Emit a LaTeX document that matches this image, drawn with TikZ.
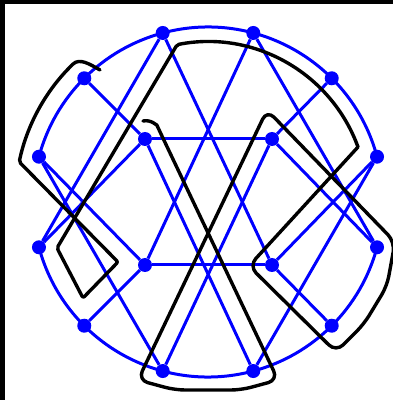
\documentclass[tikz,border=0pt]{standalone}
\usetikzlibrary{calc}
\definecolor{netblue}{RGB}{0,0,255}

\begin{document}
\begin{tikzpicture}[x=1pt, y=1pt,
  vtx/.style={circle, fill=netblue, inner sep=0pt, minimum size=14pt},
  edge/.style={draw=netblue, line width=3pt},
  trail/.style={draw=black, line width=3.4pt, line cap=round, line join=round}]
  \useasboundingbox (0,0) rectangle (393,400);
  \fill[black] (0,0) rectangle (4.5,400);
  \fill[black] (0,395.5) rectangle (393,400);
  \begin{scope}[shift={(208,198)}]
  % outer ring
  \node[vtx] (r1) at (15:175) {};
  \node[vtx] (r2) at (45:175) {};
  \node[vtx] (r3) at (75:175) {};
  \node[vtx] (r4) at (105:175) {};
  \node[vtx] (r5) at (135:175) {};
  \node[vtx] (r6) at (165:175) {};
  \node[vtx] (r7) at (195:175) {};
  \node[vtx] (r8) at (225:175) {};
  \node[vtx] (r9) at (255:175) {};
  \node[vtx] (r10) at (285:175) {};
  \node[vtx] (r11) at (315:175) {};
  \node[vtx] (r12) at (345:175) {};
  % inner square
  \node[vtx] (s1) at (-63,63) {};
  \node[vtx] (s2) at (64,63) {};
  \node[vtx] (s3) at (-63,-63) {};
  \node[vtx] (s4) at (64,-63) {};

  % ring arcs, open left and right
  \draw[edge] (r1.center) arc[start angle=15, end angle=165, radius=175];
  \draw[edge] (r7.center) arc[start angle=195, end angle=345, radius=175];
  % spokes
  \draw[edge] (r5) -- (s1);
  \draw[edge] (r2) -- (s2);
  \draw[edge] (r8) -- (s3);
  \draw[edge] (r11) -- (s4);
  \draw[edge] (s1) -- (s2);
  \draw[edge] (s3) -- (s4);
  % long chords
  \draw[edge] (r4) -- (s4);
  \draw[edge] (r3) -- (s3);
  \draw[edge] (r9) -- (s2);
  \draw[edge] (r10) -- (s1);
  \draw[edge] (r4) -- (r7);
  \draw[edge] (r3) -- (r12);
  \draw[edge] (r6) -- (r9);
  \draw[edge] (r1) -- (r10);
  \draw[edge] (r6) -- (s3);
  \draw[edge] (r7) -- (s1);
  \draw[edge] (r1) -- (s4);
  \draw[edge] (r12) -- (s2);

  % black trail
  \draw[trail, rounded corners=10pt] (-65,81) to[out=12, in=115] (-47,68)
    -- (70,-178) -- (33,-188) -- (-33,-188) -- (-70,-178) -- (59,92)
    -- (187,-40) -- (179,-84) -- (156,-122) -- (128,-150) -- (41,-64) -- (150,55);
  \draw[trail, rounded corners=2pt] (150,55) arc[start angle=20, end angle=101, radius=160]
    -- (-151,-46) -- (-125,-96) -- (-90,-60) -- (-188.8,40.1)
    arc[start angle=168, end angle=135, radius=193] to[out=45, in=150] (-108,132);
  \end{scope}
\end{tikzpicture}
\end{document}
